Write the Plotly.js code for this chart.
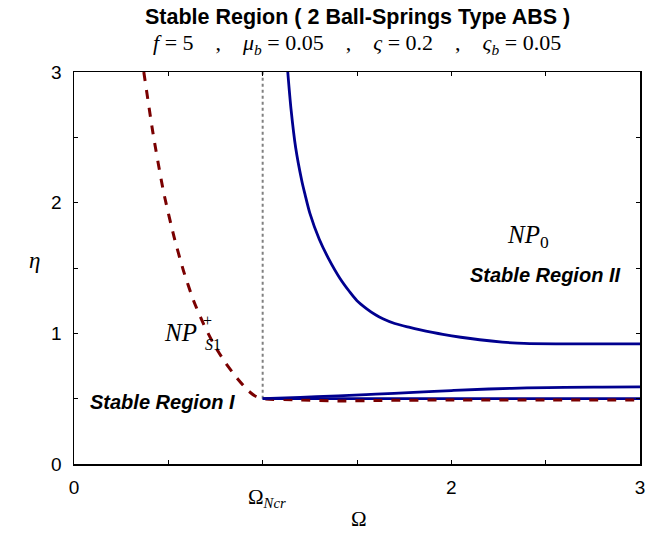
<!DOCTYPE html>
<html>
<head>
<meta charset="utf-8">
<script src="https://cdn.plot.ly/plotly-3.0.1.min.js"></script>
<style>body{margin:0;padding:0;background:#fff;} #plot{width:648px;height:537px;}</style>
</head>
<body>
<div id="plot"></div>
<script>
// Data
const np0UpperOmega = [1.133, 1.15, 1.175, 1.207, 1.225, 1.25, 1.3, 1.35, 1.41, 1.46, 1.5, 1.55, 1.6, 1.64, 1.7, 1.78, 1.83, 1.9, 1.955, 2.05, 2.15, 2.27, 2.35, 2.415, 2.6, 2.8, 3.0];
const np0UpperEta   = [3.0, 2.72, 2.42, 2.17, 2.06, 1.92, 1.72, 1.57, 1.42, 1.32, 1.25, 1.19, 1.14, 1.11, 1.075, 1.045, 1.028, 1.007, 0.992, 0.97, 0.951, 0.933, 0.925, 0.921, 0.92, 0.92, 0.92];
const np0LowerOmega = [1.0, 1.2, 1.4, 1.6, 1.8, 2.0, 2.2, 2.4, 2.6, 2.8, 3.0];
const np0LowerEta   = [0.5, 0.51, 0.522, 0.535, 0.548, 0.562, 0.574, 0.582, 0.587, 0.589, 0.59];
const np0BaseOmega  = [1.0, 3.0];
const np0BaseEta    = [0.5, 0.5];
const nps1Omega = [0.37, 0.42, 0.475, 0.53, 0.58, 0.634, 0.687, 0.74, 0.8, 0.86, 0.92, 0.96, 1.0, 1.2, 1.4, 1.6, 2.0, 2.5, 3.0];
const nps1Eta   = [3.0, 2.52, 2.08, 1.74, 1.48, 1.25, 1.07, 0.92, 0.78, 0.665, 0.565, 0.52, 0.5, 0.49, 0.482, 0.486, 0.49, 0.49, 0.49];
const critOmega = [1.0, 1.0];
const critEta   = [0.5, 3.0];
const xTickVals = [0, 2, 3];
const xTickText = ['0', '2', '3'];
const xMinorVals = [0.5, 1, 1.5, 2.5];
const yTickVals = [0, 1, 2, 3];
const yTickText = ['0', '1', '2', '3'];
const yMinorVals = [0.5, 1.5, 2.5];

const blue = '#00008f';
const red = '#7a0000';

const traces = [
  {x: critOmega, y: critEta, mode: 'lines', line: {color: '#808080', width: 2, dash: 'dot'}},
  {x: np0BaseOmega, y: np0BaseEta, mode: 'lines', line: {color: blue, width: 2.8}},
  {x: nps1Omega, y: nps1Eta, mode: 'lines', line: {color: red, width: 3, dash: 'dash', shape: 'spline', smoothing: 0.6}},
  {x: np0LowerOmega, y: np0LowerEta, mode: 'lines', line: {color: blue, width: 2.8, shape: 'spline'}},
  {x: np0UpperOmega, y: np0UpperEta, mode: 'lines', line: {color: blue, width: 2.8, shape: 'spline', smoothing: 0.8}}
];

const serif = 'Liberation Serif, Times New Roman, serif';
const sans = 'Liberation Sans, Arial, sans-serif';
const sp = '\u00a0\u00a0\u00a0\u00a0';

const axisCommon = {
  range: [0, 3], tickmode: 'array',
  ticks: 'inside', ticklen: 4, tickcolor: '#000', tickwidth: 1,
  showline: true, linecolor: '#000', linewidth: 1.5, mirror: 'ticks',
  showgrid: false, zeroline: false,
  tickfont: {family: sans, size: 19, color: '#000'}
};

const layout = {
  width: 648, height: 537,
  margin: {l: 73.5, r: 7.5, t: 72, b: 73},
  paper_bgcolor: '#fff', plot_bgcolor: '#fff',
  showlegend: false,
  xaxis: Object.assign({}, axisCommon, {
    tickvals: xTickVals, ticktext: xTickText, ticklabelstandoff: 6,
    minor: {tickmode: 'array', tickvals: xMinorVals, ticks: 'inside', ticklen: 4, tickcolor: '#000', tickwidth: 1, showgrid: false}
  }),
  yaxis: Object.assign({}, axisCommon, {
    tickvals: yTickVals, ticktext: yTickText, ticklabelstandoff: 7,
    minor: {tickmode: 'array', tickvals: yMinorVals, ticks: 'inside', ticklen: 4, tickcolor: '#000', tickwidth: 1, showgrid: false}
  }),
  annotations: [
    {xref: 'paper', yref: 'paper', x: 0.5, y: 1, yshift: 55, xanchor: 'center', yanchor: 'middle', showarrow: false,
     text: '<b>Stable Region ( 2 Ball-Springs Type ABS )</b>', font: {family: sans, size: 21.5, color: '#000'}},
    {xref: 'paper', yref: 'paper', x: 0.5, y: 1, yshift: 28, xanchor: 'center', yanchor: 'middle', showarrow: false,
     text: '<i>f</i> = 5' + sp + ',' + sp + '<i>μ<sub>b</sub></i> = 0.05' + sp + ',' + sp + '<i>ς</i> = 0.2' + sp + ',' + sp + '<i>ς<sub>b</sub></i> = 0.05',
     font: {family: serif, size: 22, color: '#000'}},
    {xref: 'paper', yref: 'paper', x: 0, xshift: -40, y: 0.5, yshift: 8, xanchor: 'center', yanchor: 'middle', showarrow: false,
     text: '<i>η</i>', font: {family: serif, size: 23, color: '#000'}},
    {xref: 'x', yref: 'paper', x: 1.5, xshift: 2, y: 0, yshift: -55, xanchor: 'center', yanchor: 'middle', showarrow: false,
     text: 'Ω', font: {family: serif, size: 21, color: '#000'}},
    {xref: 'x', yref: 'paper', x: 1, xshift: 4, y: 0, yshift: -34, xanchor: 'center', yanchor: 'middle', showarrow: false,
     text: 'Ω<sub><i>Ncr</i></sub>', font: {family: serif, size: 21, color: '#000'}},
    {xref: 'x', yref: 'y', x: 2.405, y: 1.74, xanchor: 'center', yanchor: 'middle', showarrow: false,
     text: '<i>NP</i><sub>0</sub>', font: {family: serif, size: 25, color: '#000'}},
    {xref: 'x', yref: 'y', x: 2.495, y: 1.45, xanchor: 'center', yanchor: 'middle', showarrow: false,
     text: '<b><i>Stable Region II</i></b>', font: {family: sans, size: 20, color: '#000'}},
    {xref: 'x', yref: 'y', x: 0.47, y: 0.475, xanchor: 'center', yanchor: 'middle', showarrow: false,
     text: '<b><i>Stable Region I</i></b>', font: {family: sans, size: 20, color: '#000'}},
    {xref: 'x', yref: 'y', x: 0.563, y: 1.01, xanchor: 'center', yanchor: 'middle', showarrow: false,
     text: '<i>NP</i>', font: {family: serif, size: 25, color: '#000'}},
    {xref: 'x', yref: 'y', x: 0.563, xshift: 33, y: 1.01, yshift: -12, xanchor: 'center', yanchor: 'middle', showarrow: false,
     text: '<i>S</i>1', font: {family: serif, size: 16, color: '#000'}},
    {xref: 'x', yref: 'y', x: 0.563, xshift: 27, y: 1.01, yshift: 12, xanchor: 'center', yanchor: 'middle', showarrow: false,
     text: '+', font: {family: serif, size: 16, color: '#000'}}
  ]
};

Plotly.newPlot('plot', traces, layout, {staticPlot: true, displayModeBar: false});
</script>
</body>
</html>
